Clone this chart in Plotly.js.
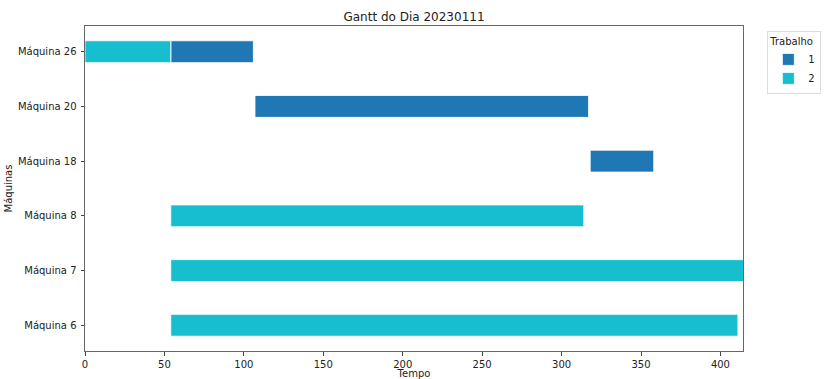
<!DOCTYPE html>
<html>
<head>
<meta charset="utf-8">
<script src="https://cdn.plot.ly/plotly-3.0.1.min.js"></script>
<style>html,body{margin:0;padding:0;background:#fff;}#chart{width:824px;height:379px;}</style>
</head>
<body>
<div id="chart"></div>
<script>
const maquinas = ['Máquina 6','Máquina 7','Máquina 8','Máquina 18','Máquina 20','Máquina 26'];
const job1Maquinas = ['Máquina 26','Máquina 20','Máquina 18'];
const job1Inicio = [54, 107, 318];
const job1Fim = [106, 317, 358];
const job2Maquinas = ['Máquina 26','Máquina 8','Máquina 7','Máquina 6'];
const job2Inicio = [0, 54, 54, 54];
const job2Fim = [54, 314, 415, 411];
const xTicks = [0, 50, 100, 150, 200, 250, 300, 350, 400];

const font = {family: 'DejaVu Sans, sans-serif', size: 10, color: '#222'};
function trace(name, ys, ini, fim, color) {
  return {
    type: 'bar', orientation: 'h', name: name,
    y: ys, base: ini, x: fim.map((f, i) => f - ini[i]),
    width: 0.4,
    marker: {color: color, line: {color: 'rgba(255,255,255,0.85)', width: 1}},
    hoverinfo: 'skip'
  };
}
const data = [
  trace('1', job1Maquinas, job1Inicio, job1Fim, '#1f77b4'),
  trace('2', job2Maquinas, job2Inicio, job2Fim, '#17becf')
];
const axisCommon = {
  showline: true, mirror: true, linecolor: '#666', linewidth: 1,
  ticks: 'outside', ticklen: 3.5, tickcolor: '#444', tickwidth: 1,
  showgrid: false, zeroline: false, tickfont: font
};
const layout = {
  width: 824, height: 379,
  margin: {l: 85, r: 81, t: 26, b: 28, autoexpand: false},
  paper_bgcolor: '#fff', plot_bgcolor: '#fff',
  font: font,
  barmode: 'overlay',
  title: {text: 'Gantt do Dia 20230111', font: {family: 'DejaVu Sans, sans-serif', size: 12, color: '#222'}, x: 0.5, xref: 'paper', y: 0.955, yanchor: 'middle'},
  xaxis: Object.assign({}, axisCommon, {
    range: [0, 414.2], tickvals: xTicks, ticktext: xTicks.map(String),
    title: {text: 'Tempo', font: font, standoff: 3}
  }),
  yaxis: Object.assign({}, axisCommon, {
    type: 'category', categoryorder: 'array', categoryarray: maquinas,
    range: [-0.47, 5.47],
    ticklabelstandoff: 2,
    title: {text: 'Máquinas', font: font, standoff: 3}
  }),
  legend: {
    x: 1.037, y: 0.985, xanchor: 'left', yanchor: 'top',
    title: {text: 'Trabalho', font: font},
    font: font, bordercolor: '#ddd', borderwidth: 1, bgcolor: '#fff',
    tracegroupgap: 0, itemwidth: 30
  },
  showlegend: true
};
Plotly.newPlot('chart', data, layout, {displayModeBar: false, staticPlot: true});
</script>
</body>
</html>
